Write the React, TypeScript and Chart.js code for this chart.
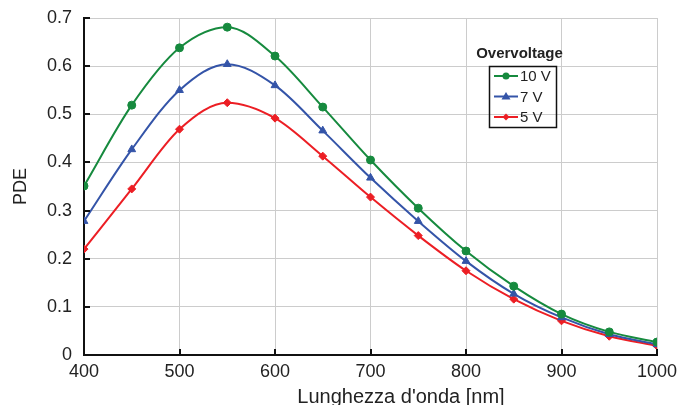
import React, { useEffect, useRef } from "react";
import { Chart, registerables } from "chart.js";

Chart.register(...registerables);

const wavelengths = [400, 450, 500, 550, 600, 650, 700, 750, 800, 850, 900, 950, 1000];
const pde10V = [0.351, 0.519, 0.638, 0.681, 0.621, 0.515, 0.405, 0.305, 0.216, 0.143, 0.085, 0.048, 0.027];
const pde7V = [0.278, 0.427, 0.55, 0.604, 0.56, 0.466, 0.368, 0.278, 0.195, 0.127, 0.078, 0.043, 0.022];
const pde5V = [0.22, 0.345, 0.469, 0.524, 0.492, 0.413, 0.328, 0.248, 0.175, 0.116, 0.071, 0.039, 0.019];
const seriesLabels = ["10 V", "7 V", "5 V"];
const legendTitle = "Overvoltage";
const xTitle = "Lunghezza d'onda [nm]";
const yTitle = "PDE";

const GREEN = "rgb(22,138,62)";
const BLUE = "rgb(52,84,168)";
const RED = "rgb(236,30,36)";
const FONT = "'Liberation Sans', Arial, sans-serif";

const insideTicks = {
  id: "insideTicks",
  afterDatasetsDraw(chart: any) {
    const ctx = chart.ctx;
    const { left, bottom } = chart.chartArea;
    const xs = chart.scales.x;
    const ys = chart.scales.y;
    ctx.save();
    ctx.strokeStyle = "#111";
    ctx.lineWidth = 2;
    ys.ticks.forEach((t: any) => {
      const y = Math.round(ys.getPixelForValue(t.value));
      ctx.beginPath();
      ctx.moveTo(left, y);
      ctx.lineTo(left + 6, y);
      ctx.stroke();
    });
    xs.ticks.forEach((t: any) => {
      const x = Math.round(xs.getPixelForValue(t.value));
      ctx.beginPath();
      ctx.moveTo(x, bottom);
      ctx.lineTo(x, bottom - 6);
      ctx.stroke();
    });
    ctx.restore();
  },
};

const customTexts = {
  id: "customTexts",
  afterDraw(chart: any) {
    const ctx = chart.ctx;
    ctx.save();
    // x-axis title
    ctx.fillStyle = "#222";
    ctx.font = `20px ${FONT}`;
    ctx.textAlign = "center";
    ctx.textBaseline = "alphabetic";
    ctx.fillText(xTitle, 401, 403);
    // legend
    ctx.font = `bold 15px ${FONT}`;
    ctx.textBaseline = "middle";
    ctx.fillText(legendTitle, 519.5, 54);
    ctx.strokeStyle = "#111";
    ctx.lineWidth = 1.5;
    ctx.strokeRect(489.5, 66.5, 67, 61);
    const colors = [GREEN, BLUE, RED];
    const styles = ["circle", "triangle", "rectRot"];
    const rows = [76, 96.5, 117];
    ctx.font = `15px ${FONT}`;
    ctx.textAlign = "left";
    for (let i = 0; i < 3; i++) {
      const y = rows[i];
      ctx.strokeStyle = colors[i];
      ctx.lineWidth = 2;
      ctx.beginPath();
      ctx.moveTo(494, y);
      ctx.lineTo(518, y);
      ctx.stroke();
      ctx.fillStyle = colors[i];
      ctx.beginPath();
      if (styles[i] === "circle") {
        ctx.arc(506, y, 3.5, 0, Math.PI * 2);
      } else if (styles[i] === "triangle") {
        ctx.moveTo(506, y - 4.5);
        ctx.lineTo(510.5, y + 3);
        ctx.lineTo(501.5, y + 3);
        ctx.closePath();
      } else {
        ctx.moveTo(506, y - 3.5);
        ctx.lineTo(509.5, y);
        ctx.lineTo(506, y + 3.5);
        ctx.lineTo(502.5, y);
        ctx.closePath();
      }
      ctx.fill();
      ctx.fillStyle = "#222";
      ctx.fillText(seriesLabels[i], 520, y + 1);
    }
    ctx.restore();
  },
};

export default function App() {
  const ref = useRef<HTMLCanvasElement>(null);
  useEffect(() => {
    document.body.style.margin = "0";
    const mk = (label: string, data: number[], color: string, style: string, r: number) => ({
      label,
      data: wavelengths.map((x, i) => ({ x, y: data[i] })),
      borderColor: color,
      backgroundColor: color,
      borderWidth: 2,
      pointStyle: style,
      pointRadius: r,
      pointBorderWidth: 1,
      cubicInterpolationMode: "monotone" as const,
      fill: false,
    });
    const chart = new Chart(ref.current!, {
      type: "line",
      data: {
        datasets: [
          mk(seriesLabels[0], pde10V, GREEN, "circle", 4),
          mk(seriesLabels[1], pde7V, BLUE, "triangle", 4.5),
          mk(seriesLabels[2], pde5V, RED, "rectRot", 4),
        ],
      },
      options: {
        responsive: false,
        animation: false,
        layout: { padding: { top: 18, right: 20, left: 0, bottom: 0 } },
        plugins: { legend: { display: false }, tooltip: { enabled: false } },
        scales: {
          x: {
            type: "linear",
            min: 400,
            max: 1000,
            ticks: {
              stepSize: 100,
              color: "#222",
              font: { family: FONT, size: 18 },
              padding: 6,
              maxRotation: 0,
              callback: (v: any) => String(v),
            },
            grid: { color: "#cccccc", lineWidth: 1, drawTicks: false },
            border: { color: "#111", width: 2 },
            title: { display: false },
            afterFit: (s: any) => {
              s.height = 50;
              s.paddingLeft = 0;
              s.paddingRight = 0;
            },
          },
          y: {
            min: 0,
            max: 0.7,
            ticks: {
              stepSize: 0.1,
              color: "#222",
              font: { family: FONT, size: 18 },
              padding: 12,
              callback: (v: any) => (Math.round(v * 10) / 10).toString(),
            },
            grid: { color: "#cccccc", lineWidth: 1, drawTicks: false },
            border: { color: "#111", width: 2 },
            title: { display: true, text: yTitle, color: "#222", font: { family: FONT, size: 18 }, padding: { top: 10, bottom: 6 } },
            afterFit: (s: any) => {
              s.width = 84;
              s.paddingTop = 0;
              s.paddingBottom = 0;
            },
          },
        },
      } as any,
      plugins: [insideTicks, customTexts],
    });
    return () => chart.destroy();
  }, []);
  return <canvas ref={ref} width={677} height={405} style={{ display: "block" }} />;
}
